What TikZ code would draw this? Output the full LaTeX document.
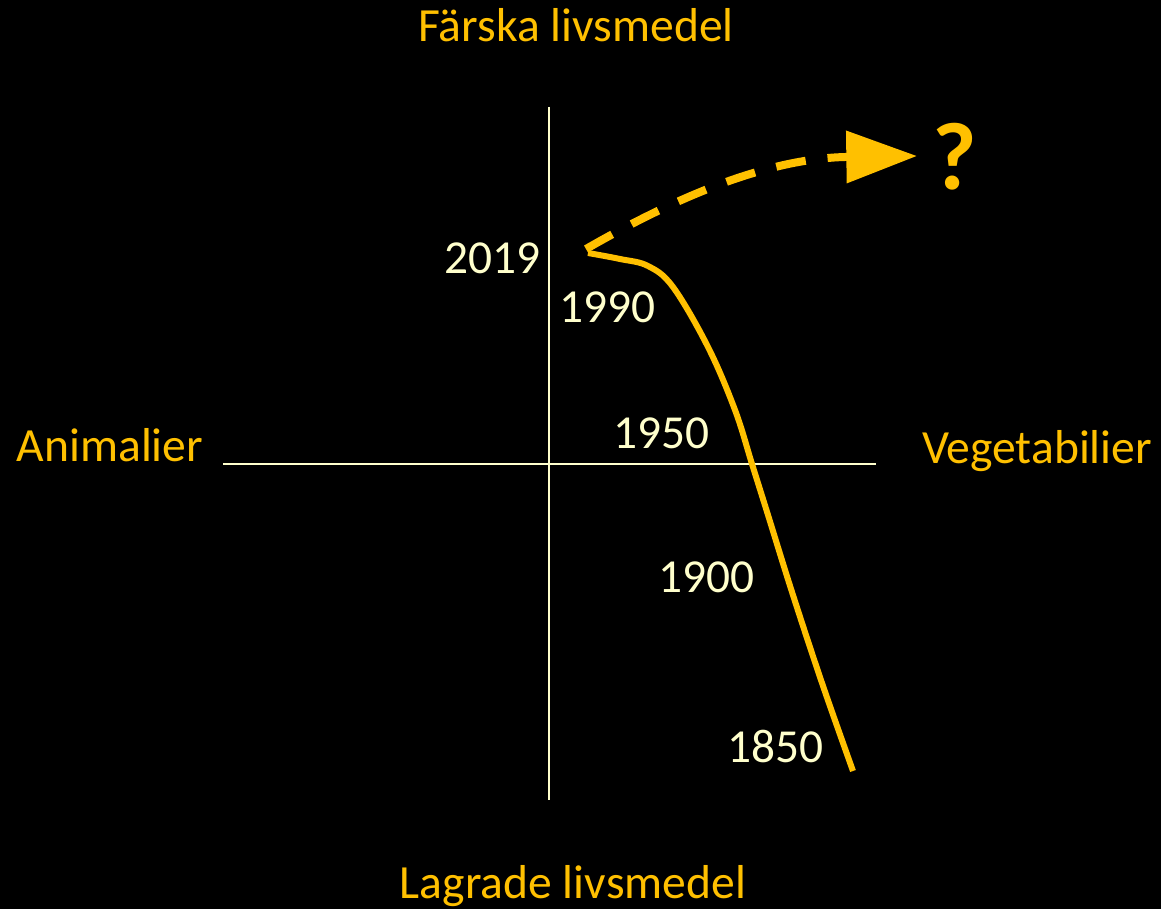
\documentclass[tikz,border=0pt]{standalone}
\usepackage{fontspec}
\setmainfont{Carlito}
\usepackage{tikz}
\usetikzlibrary{arrows.meta,positioning,calc}
\definecolor{gold}{HTML}{FFC000}
\definecolor{cream}{HTML}{FFFFCC}

\begin{document}
\begin{tikzpicture}[x=0.75pt,y=-0.75pt,
  axisline/.style={cream,line width=1.5pt},
  axislabel/.style={gold,anchor=base,inner sep=0pt,font=\fontsize{35.7}{42}\selectfont},
  year/.style={cream,anchor=base,inner sep=0pt,font=\fontsize{35.5}{42}\selectfont},
  trend/.style={gold,line width=4.5pt},
  future/.style={gold,line width=6pt,dash pattern=on 22.5pt off 16.5pt,
    -{Triangle[length=53pt,width=38pt]}}]
% background and frame
\fill[black] (0,0) rectangle (1161,909);
\useasboundingbox (0,0) rectangle (1161,909);
% axes
\coordinate (top) at (549,107);
\coordinate (bottom) at (549,800);
\coordinate (left) at (223,464);
\coordinate (right) at (876,464);
\draw[axisline] (top) -- (bottom);
\draw[axisline] (left) -- (right);
% axis labels
\node[axislabel] (fresh) at (576,42) {Färska livsmedel};
\node[axislabel] (stored) at (573,898) {Lagrade livsmedel};
\node[axislabel] (animal) at (110,461) {Animalier};
\node[axislabel] (veg) at (1037,463) {Vegetabilier};
% years along the path
\node[year] (y2019) at (492,274) {2019};
\node[year] (y1990) at (607,323) {1990};
\node[year] (y1950) at (661,449) {1950};
\node[year] (y1900) at (706,592) {1900};
\node[year] (y1850) at (775,762) {1850};
% development 1850--2019
\coordinate (start) at (853,771);
\coordinate (now) at (588,253);
\draw[trend] plot[smooth,tension=0.6] coordinates {(start) (822,683) (792,592)
  (768,515) (752,464) (735,410) (708,347) (673,287) (648,266) (620,259) (now)};
% where next
\node[gold,inner sep=0pt,anchor=base,font=\fontsize{72}{80}\selectfont\bfseries]
  (what) at (955,190) {?};
\coordinate (tip) at (917,156);
\draw[future] (586,249) .. controls (680,195) and (770,158) .. (tip);
\end{tikzpicture}
\end{document}
